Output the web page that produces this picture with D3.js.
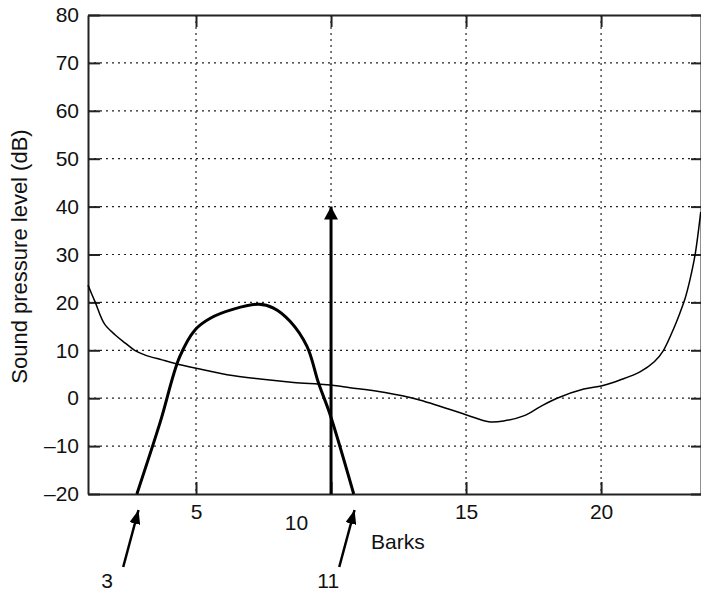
<!DOCTYPE html>
<html>
<head>
<meta charset="utf-8">
<script src="https://cdn.jsdelivr.net/npm/d3@7"></script>
<style>
  html, body { margin: 0; padding: 0; background: #fff; }
  svg { display: block; font-family: "Liberation Sans", Arial, Helvetica, sans-serif; }
</style>
</head>
<body>
<svg id="chart" width="701" height="593"></svg>
<script>
// ---- Data ----
const xTicks = [5, 10, 15, 20];
const yTicks = [-20, -10, 0, 10, 20, 30, 40, 50, 60, 70, 80];

// Absolute threshold of hearing (thin curve): bark, dB
const thresholdBark = [1.0, 1.27, 1.61, 2.01, 2.38, 2.73, 3.12, 3.74, 4.23, 4.96, 6.15, 7.38, 8.61, 9.85, 10.7, 12.0, 13.18, 15.02, 15.84, 16.39, 17.13, 17.75, 18.37, 19.36, 20.04, 20.7, 21.44, 21.97, 22.30, 22.67, 22.92, 23.11, 23.29, 23.48, 23.69];
const thresholdDb   = [23.6, 20.0, 15.5, 13.2, 11.5, 10.0, 9.0, 8.0, 7.25, 6.3, 4.9, 4.0, 3.3, 2.8, 2.2, 1.2, -0.2, -3.5, -4.9, -4.75, -3.7, -1.75, 0, 1.9, 2.6, 3.8, 5.5, 7.6, 9.9, 14.3, 17.8, 20.8, 24.7, 29.9, 38.9];

// Masker spreading curve (thick curve): bark, dB
const maskBark = [2.81, 3.68, 4.39, 4.97, 5.53, 6.39, 7.32, 7.87, 8.49, 9.11, 9.54, 9.97, 10.84];
const maskDb   = [-20, -4.9, 8.56, 14.3, 16.7, 18.6, 19.6, 18.8, 16.0, 10.8, 3.1, -3.5, -20];

// Masker tone (vertical arrow)
const toneBark = 10;
const toneDb = 40;

// Pointer arrows at bark values
const pointerBarks = [3, 11];
const pointerLabels = ["3", "11"];

const xLabel = "Barks";
const yLabel = "Sound pressure level (dB)";

// ---- Layout ----
const svg = d3.select("#chart");
const mLeft = 88, mRight = 701, mTop = 15, mBottom = 494;
const x = d3.scaleLinear().domain([1, 23.7]).range([mLeft, mRight]);
const y = d3.scaleLinear().domain([-20, 80]).range([mBottom, mTop]);
const fontSize = 21;
const fmt = d => (d < 0 ? "\u2013" + Math.abs(d) : String(d));

const defs = svg.append("defs");
function arrowMarker(id, w, h) {
  defs.append("marker")
    .attr("id", id)
    .attr("markerUnits", "userSpaceOnUse")
    .attr("viewBox", `0 ${-w/2} ${h} ${w}`)
    .attr("refX", h).attr("refY", 0)
    .attr("markerWidth", h).attr("markerHeight", w)
    .attr("orient", "auto")
    .append("path")
    .attr("d", `M0,${-w/2}L${h},0L0,${w/2}Z`)
    .attr("fill", "#000");
}
arrowMarker("headBig", 14, 13);
arrowMarker("headSmall", 11, 14);

// Gridlines
const grid = svg.append("g").attr("stroke", "#222").attr("stroke-width", 1.2).attr("stroke-dasharray", "2,4");
grid.selectAll("line.h").data(yTicks.filter(d => d > -20 && d < 80)).join("line").attr("class", "h")
  .attr("x1", mLeft).attr("x2", mRight).attr("y1", d => y(d)).attr("y2", d => y(d));
grid.selectAll("line.v").data(xTicks).join("line").attr("class", "v")
  .attr("y1", mTop).attr("y2", mBottom).attr("x1", d => x(d)).attr("x2", d => x(d));

// Axes
function styleAxis(g) {
  g.select(".domain").attr("stroke", "#222").attr("stroke-width", 2);
  g.selectAll(".tick line").attr("stroke", "#222").attr("stroke-width", 2);
  g.selectAll(".tick text").attr("fill", "#111").style("font-size", fontSize + "px")
    .style("font-family", '"Liberation Sans", Arial, Helvetica, sans-serif');
}
const gLeft = svg.append("g").attr("transform", `translate(${mLeft},0)`)
  .call(d3.axisLeft(y).tickValues(yTicks).tickSizeInner(-12).tickSizeOuter(0).tickPadding(9).tickFormat(fmt));
styleAxis(gLeft);
const gRight = svg.append("g").attr("transform", `translate(${mRight},0)`)
  .call(d3.axisRight(y).tickValues(yTicks).tickSizeInner(-10).tickSizeOuter(0).tickFormat(""));
styleAxis(gRight);
const gTop = svg.append("g").attr("transform", `translate(0,${mTop})`)
  .call(d3.axisTop(x).tickValues(xTicks).tickSizeInner(-12).tickSizeOuter(0).tickFormat(""));
styleAxis(gTop);
const gBottom = svg.append("g").attr("transform", `translate(0,${mBottom})`)
  .call(d3.axisBottom(x).tickValues(xTicks).tickSizeInner(-12).tickSizeOuter(0).tickPadding(10));
styleAxis(gBottom);
gBottom.selectAll(".tick text").filter(d => d === 10).attr("dx", -35).attr("dy", "1.25em");

// Axis titles
svg.append("text").attr("x", 371).attr("y", 549).attr("font-size", fontSize).attr("fill", "#111").text(xLabel);
svg.append("text").attr("transform", `translate(27,${(mTop + mBottom) / 2 + 2}) rotate(-90)`)
  .attr("text-anchor", "middle").attr("font-size", 22).attr("fill", "#111").text(yLabel);

// Curves
const thrData = thresholdBark.map((b, i) => [b, thresholdDb[i]]);
const maskData = maskBark.map((b, i) => [b, maskDb[i]]);
svg.append("path").datum(thrData)
  .attr("fill", "none").attr("stroke", "#000").attr("stroke-width", 1.5).attr("stroke-linejoin", "round")
  .attr("d", d3.line().x(d => x(d[0])).y(d => y(d[1])).curve(d3.curveCatmullRom.alpha(0.5)));
svg.append("path").datum(maskData)
  .attr("fill", "none").attr("stroke", "#000").attr("stroke-width", 3).attr("stroke-linejoin", "round")
  .attr("d", d3.line().x(d => x(d[0])).y(d => y(d[1])).curve(d3.curveCatmullRom.alpha(0.5)));

// Tone arrow
svg.append("line")
  .attr("x1", x(toneBark)).attr("x2", x(toneBark))
  .attr("y1", y(-20)).attr("y2", y(toneDb))
  .attr("stroke", "#000").attr("stroke-width", 3).attr("marker-end", "url(#headBig)");

// Pointer arrows
const pg = svg.append("g");
pointerBarks.forEach((b, i) => {
  const tipX = x(b) - 3.5, tipY = y(-20) + 16;
  const tailX = tipX - 15.3, tailY = tipY + 57;
  pg.append("line").attr("x1", tailX).attr("y1", tailY).attr("x2", tipX).attr("y2", tipY)
    .attr("stroke", "#000").attr("stroke-width", 2.5).attr("marker-end", "url(#headSmall)");
  pg.append("text").attr("x", tailX - (i === 0 ? 16 : 11)).attr("y", tailY + 21)
    .attr("text-anchor", "middle").attr("font-size", fontSize).attr("fill", "#111").text(pointerLabels[i]);
});
</script>
</body>
</html>
